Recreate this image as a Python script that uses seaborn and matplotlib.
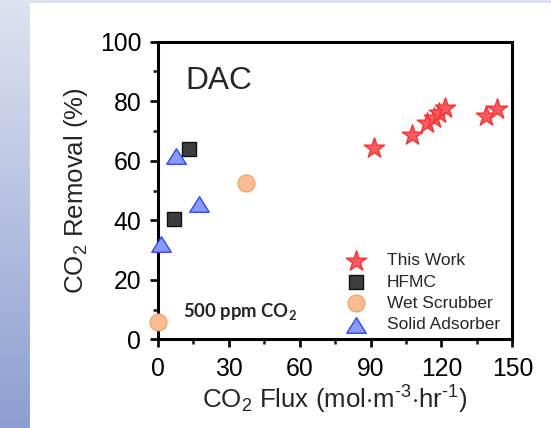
import numpy as np
import pandas as pd
import matplotlib
matplotlib.use("Agg")
import matplotlib.pyplot as plt
from matplotlib.patches import Rectangle
from matplotlib.path import Path
import seaborn as sns

# CO2 flux (mol m^-3 hr^-1) and CO2 removal (%) for each DAC technology
this_work_flux = [91.6, 107.6, 113.7, 116.7, 118.9, 121.4, 138.9, 143.5]
this_work_removal = [64.3, 68.8, 72.6, 74.4, 76.2, 77.8, 75.0, 77.5]

hfmc_flux = [6.9, 13.1]
hfmc_removal = [40.3, 63.8]

wet_scrubber_flux = [0.1, 37.4]
wet_scrubber_removal = [5.9, 52.6]

solid_adsorber_flux = [1.3, 7.6, 17.3]
solid_adsorber_removal = [32.1, 61.5, 45.4]

series_names = ["This Work", "HFMC", "Wet Scrubber", "Solid Adsorber"]
x_ticks = [0, 30, 60, 90, 120, 150]
y_ticks = [0, 20, 40, 60, 80, 100]

sns.set_style("ticks")
plt.rcParams["font.family"] = ["Liberation Sans", "DejaVu Sans"]
plt.rcParams["mathtext.fontset"] = "custom"
plt.rcParams["mathtext.rm"] = "Liberation Sans"
plt.rcParams["mathtext.it"] = "Liberation Sans:italic"
plt.rcParams["mathtext.bf"] = "Lato:bold"

fig = plt.figure(figsize=(5.51, 4.28), dpi=100)

# backdrop: vertical blue gradient with a white panel
h, w = 428, 551
top = np.array([222, 227, 241]) / 255.0
bot = np.array([141, 159, 209]) / 255.0
t = np.linspace(0, 1, h)[:, None, None]
grad = (top[None, None, :] * (1 - t) + bot[None, None, :] * t) * np.ones((1, w, 1))
fig.figimage(grad, xo=0, yo=0, origin="upper", zorder=-3)
fig.patches.append(Rectangle((30 / w, 0), 1 - 30 / w, 1 - 3 / h,
                             transform=fig.transFigure, facecolor="white",
                             edgecolor="none", zorder=-2))

ax = fig.add_axes([0.2868, 0.2072, 0.643, 0.6954])
ax.set_facecolor("white")

frames = {
    "This Work": pd.DataFrame({"flux": this_work_flux, "removal": this_work_removal}),
    "HFMC": pd.DataFrame({"flux": hfmc_flux, "removal": hfmc_removal}),
    "Wet Scrubber": pd.DataFrame({"flux": wet_scrubber_flux, "removal": wet_scrubber_removal}),
    "Solid Adsorber": pd.DataFrame({"flux": solid_adsorber_flux, "removal": solid_adsorber_removal}),
}

wide_triangle = Path([(0, 0.8), (-1, -0.8), (1, -0.8), (0, 0.8)],
                     [Path.MOVETO, Path.LINETO, Path.LINETO, Path.CLOSEPOLY])

styles = {
    "This Work": dict(marker="*", s=235, color="#ff5c62", edgecolor="#ff2e2e", linewidth=1.0),
    "HFMC": dict(marker="s", s=105, color="#3d3d3d", edgecolor="#111111", linewidth=1.0),
    "Wet Scrubber": dict(marker="o", s=145, color="#f8bd90", edgecolor="#f0a468", linewidth=1.0),
    "Solid Adsorber": dict(marker=wide_triangle, s=195, color="#8a9bf7", edgecolor="#2f46ff", linewidth=1.0),
}

for name in series_names:
    sns.scatterplot(data=frames[name], x="flux", y="removal", ax=ax, label=name,
                    clip_on=False, zorder=3, **styles[name])

ax.set_xlim(0, 150)
ax.set_ylim(0, 100)
ax.set_xticks(x_ticks)
ax.set_yticks(y_ticks)
ax.set_xticks([15, 45, 75, 105, 135], minor=True)
ax.set_yticks([10, 30, 50, 70, 90], minor=True)

for side in ["left", "right", "top", "bottom"]:
    ax.spines[side].set_visible(True)
    ax.spines[side].set_linewidth(2.2)
    ax.spines[side].set_color("black")

ax.tick_params(axis="both", which="major", direction="out", length=6, width=1.9,
               labelsize=17.8, colors="black")
ax.tick_params(axis="x", which="major", pad=6.5)
ax.tick_params(axis="y", which="major", pad=6)
ax.tick_params(axis="both", which="minor", direction="out", length=3.5, width=1.9)

ax.set_xlabel(r"CO$_2$ Flux (mol$\cdot$m$^{\text{-}3}$$\cdot$hr$^{\text{-}1}$)",
              fontsize=18.6, labelpad=2)
ax.set_ylabel(r"CO$_2$ Removal (%)", fontsize=18.6, labelpad=7)

ax.text(11.4, 84.0, "DAC", fontsize=22.8, ha="left", va="baseline")
ax.text(10.7, 7.6, r"500 ppm CO$_{\mathbf{2}}$", fontsize=13.3, family="Lato",
        fontweight="bold", ha="left", va="baseline")

leg = ax.legend(loc="lower left", bbox_to_anchor=(0.491, 0.0), borderaxespad=0,
                frameon=False, fontsize=12.5, labelspacing=0.36, scatterpoints=1,
                handletextpad=0.75)

fig.savefig("out.png", dpi=100)
